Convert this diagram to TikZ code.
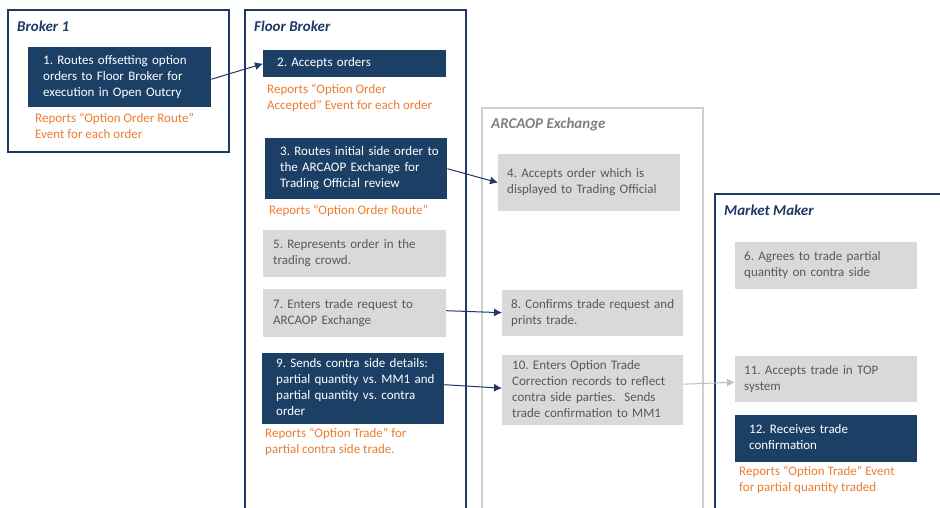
\documentclass[tikz,border=0pt]{standalone}
\usepackage{fontspec}
\setmainfont{Carlito}
\usetikzlibrary{arrows.meta}
\definecolor{navy}{HTML}{1F3864}
\definecolor{boxblue}{HTML}{1C3F66}
\definecolor{boxgray}{HTML}{D9D9D9}
\definecolor{txtgray}{HTML}{595959}
\definecolor{framegray}{HTML}{D0D0D0}
\definecolor{ttlgray}{HTML}{7F7F7F}
\definecolor{orng}{HTML}{ED7D31}
\definecolor{arrgray}{HTML}{BFBFBF}
\newcommand\indlines[2]{\begin{tabular}{@{\hspace{#1}}l@{}}#2\end{tabular}}
\frenchspacing
\begin{document}
\begin{tikzpicture}[x=1pt,y=-1pt,
  stepbase/.style={anchor=north west, inner sep=0pt, align=left, font=\fontsize{13}{16}\selectfont},
  darkbox/.style={stepbase, fill=boxblue, text=white},
  graybox/.style={stepbase, fill=boxgray, text=txtgray},
  note/.style={anchor=north west, inner sep=0pt, align=left, text=orng, font=\fontsize{13}{16}\selectfont},
  lane/.style={line width=1.3pt, draw=navy},
  lanegray/.style={line width=1.3pt, draw=framegray},
  lanetitle/.style={anchor=base west, inner sep=0pt, font=\fontsize{15}{18}\selectfont\bfseries\itshape, text=navy},
  flow/.style={draw=navy, line width=1pt, -{Latex[length=8pt,width=8pt]}},
  flowgray/.style={draw=arrgray, line width=1pt, -{Latex[length=8pt,width=8pt]}},
]
\clip (0,0) rectangle (940,508);
\fill[white] (0,0) rectangle (940,508);

% lanes
\draw[lane] (8,10) rectangle (229,152);
\draw[lane] (245,10) rectangle (466,540);
\draw[lanegray] (482,108) rectangle (703,540);
\draw[lane] (715,194) rectangle (980,540);

\node[lanetitle] (t1) at (17,32) {Broker 1};
\node[lanetitle] (t2) at (254,32) {Floor Broker};
\node[lanetitle, text=ttlgray] (t3) at (491,129) {ARCAOP Exchange};
\node[lanetitle] (t4) at (724,215) {Market Maker};

% boxes
\node[darkbox, text width=183pt, minimum height=60pt] (b1) at (28,47)
  {\indlines{15pt}{1. Routes offsetting option\\orders to Floor Broker for\\execution in Open Outcry}};
\node[darkbox, text width=183pt, minimum height=27pt] (b2) at (263,50)
  {\indlines{14pt}{2. Accepts orders}};
\node[darkbox, text width=182pt, minimum height=61pt] (b3) at (265,138)
  {\indlines{15pt}{3. Routes initial side order to\\the ARCAOP Exchange for\\Trading Official review}};
\node[graybox, text width=182pt, minimum height=57pt] (b4) at (498,154)
  {\indlines{9pt}{4. Accepts order which is\\displayed to Trading Official}};
\node[graybox, text width=183pt, minimum height=47pt] (b5) at (263,230)
  {\indlines{10pt}{5. Represents order in the\\trading crowd.}};
\node[graybox, text width=182pt, minimum height=47pt] (b6) at (735,242)
  {\indlines{9pt}{6. Agrees to trade partial\\quantity on contra side}};
\node[graybox, text width=183pt, minimum height=48pt] (b7) at (263,289)
  {\indlines{10pt}{7. Enters trade request to\\ARCAOP Exchange}};
\node[graybox, text width=181pt, minimum height=46pt] (b8) at (502,290)
  {\indlines{9pt}{8. Confirms trade request and\\prints trade.}};
\node[darkbox, text width=182pt, minimum height=71pt] (b9) at (262,353)
  {\indlines{14pt}{9. Sends contra side details:\\partial quantity vs. MM1 and\\partial quantity vs. contra\\order}};
\node[graybox, text width=181pt, minimum height=70pt] (b10) at (502,355)
  {\indlines{10pt}{10. Enters Option Trade\\Correction records to reflect\\contra side parties.\ \ Sends\\trade confirmation to MM1}};
\node[graybox, text width=182pt, minimum height=46pt] (b11) at (735,356)
  {\indlines{9pt}{11. Accepts trade in TOP\\system}};
\node[darkbox, text width=182pt, minimum height=47pt] (b12) at (735,415)
  {\indlines{14pt}{12. Receives trade\\confirmation}};

% notes
\node[note] (n1) at (35,113) {Reports “Option Order Route”\\Event for each order};
\node[note] (n2) at (267,84) {Reports “Option Order\\Accepted” Event for each order};
\node[note] (n3) at (269,205) {Reports “Option Order Route”};
\node[note] (n9) at (265,428) {Reports “Option Trade” for\\partial contra side trade.};
\node[note] (n12) at (739,466) {Reports “Option Trade” Event\\for partial quantity traded};

% connectors
\draw[flow] ([yshift=-2pt]b1.east) -- (b2.west);
\draw[flow] (b3.east) -- (b4.west);
\draw[flow] ([yshift=2.5pt]b7.east) -- ([yshift=0.5pt]b8.west);
\draw[flow] ([yshift=4pt]b9.east) -- ([yshift=2pt]b10.west);
\draw[flowgray] ([yshift=6pt]b10.east) -- ([yshift=-3pt]b11.west);
\end{tikzpicture}
\end{document}
